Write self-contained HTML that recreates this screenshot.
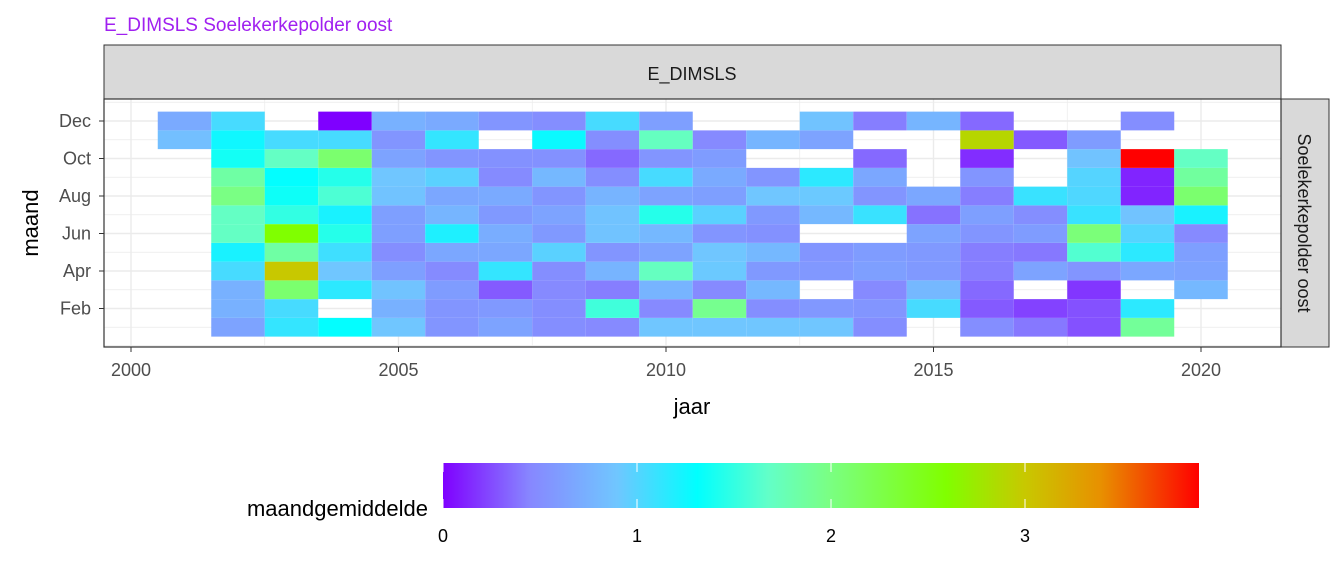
<!DOCTYPE html>
<html><head><meta charset="utf-8"><style>
body{margin:0;background:#fff;}
svg{display:block;font-family:"Liberation Sans",Arial,sans-serif;}
</style></head><body>
<svg id="chart" width="1344" height="576" viewBox="0 0 1344 576">
<defs>
<linearGradient id="cg" x1="0" x2="1" y1="0" y2="0">
<stop offset="0" stop-color="#7F00FF"/>
<stop offset="0.115" stop-color="#8787FF"/>
<stop offset="0.23" stop-color="#70C6FF"/>
<stop offset="0.336" stop-color="#00FFFF"/>
<stop offset="0.43" stop-color="#62FFC8"/>
<stop offset="0.51" stop-color="#7AFF84"/>
<stop offset="0.665" stop-color="#80FF00"/>
<stop offset="0.77" stop-color="#C8C800"/>
<stop offset="0.87" stop-color="#E89000"/>
<stop offset="1" stop-color="#FF0000"/>
</linearGradient>
</defs>
<text x="104" y="31" font-size="19" fill="#A020F0">E_DIMSLS Soelekerkepolder oost</text>
<rect x="104" y="45" width="1177" height="54" fill="#D9D9D9" stroke="#333" stroke-width="1"/>
<text x="692" y="80" font-size="18" text-anchor="middle" fill="#1A1A1A">E_DIMSLS</text>
<rect x="1281" y="99" width="48" height="248" fill="#D9D9D9" stroke="#333" stroke-width="1"/>
<text transform="translate(1298,223) rotate(90)" font-size="18" text-anchor="middle" fill="#1A1A1A">Soelekerkepolder oost</text>
<g id="grid"></g>
<g id="cells"></g>
<rect x="104" y="99" width="1177" height="248" fill="none" stroke="#333" stroke-width="1.2"/>
<g id="axes"></g>
<text transform="translate(38,223) rotate(-90)" font-size="22" text-anchor="middle" fill="#000">maand</text>
<text x="692" y="414" font-size="22" text-anchor="middle" fill="#000">jaar</text>
<text x="428" y="516" font-size="22" text-anchor="end" fill="#000">maandgemiddelde</text>
<rect x="443" y="463" width="756" height="45" fill="url(#cg)"/>
<g id="legend"></g>
</svg>
<script>
const years=[2001,2002,2003,2004,2005,2006,2007,2008,2009,2010,2011,2012,2013,2014,2015,2016,2017,2018,2019,2020];
const monthLabels=["Feb","Apr","Jun","Aug","Oct","Dec"];
const monthTicks=[2,4,6,8,10,12];
const yearTicks=[2000,2005,2010,2015,2020];
const legendTicks=[0,1,2,3];
const n=null;
const v2001=[n,n,n,n,n,n,n,n,n,n,0.85,0.7];
const v2002=[0.65,0.75,0.75,1.05,1.22,1.7,1.7,2.0,1.85,1.38,1.25,1.05];
const v2003=[1.12,1.05,2.1,3.0,1.85,2.6,1.5,1.36,1.3,1.7,1.05,n];
const v2004=[1.3,n,1.15,0.9,1.08,1.45,1.22,1.6,1.45,2.1,1.05,0.0];
const v2005=[0.9,0.75,0.88,0.62,0.5,0.62,0.62,0.88,0.9,0.65,0.55,0.75];
const v2006=[0.55,0.55,0.6,0.48,0.68,1.2,0.78,0.68,0.98,0.55,1.12,0.7];
const v2007=[0.65,0.58,0.3,1.12,0.68,0.72,0.58,0.7,0.48,0.52,n,0.55];
const v2008=[0.5,0.5,0.47,0.5,0.98,0.58,0.65,0.55,0.8,0.52,1.27,0.5];
const v2009=[0.47,1.55,0.42,0.77,0.55,0.88,0.88,0.77,0.5,0.35,0.5,1.05];
const v2010=[0.9,0.47,0.77,1.72,0.65,0.8,1.45,0.65,1.05,0.55,1.72,0.62];
const v2011=[0.9,1.95,0.47,0.92,0.9,0.55,0.98,0.62,0.7,0.6,0.47,n];
const v2012=[0.9,0.5,0.8,0.58,0.8,0.52,0.58,0.9,0.55,n,0.78,n];
const v2013=[0.9,0.57,n,0.57,0.55,n,0.8,0.92,1.15,n,0.65,0.88];
const v2014=[0.5,0.55,0.47,0.62,0.6,n,1.1,0.55,0.68,0.35,n,0.42];
const v2015=[n,1.05,0.8,0.58,0.58,0.65,0.38,0.68,n,n,n,0.78];
const v2016=[0.5,0.3,0.35,0.42,0.42,0.55,0.62,0.42,0.55,0.15,2.9,0.35];
const v2017=[0.4,0.22,n,0.65,0.4,0.6,0.5,1.1,n,n,0.3,n];
const v2018=[0.27,0.27,0.18,0.55,1.62,2.05,1.1,1.02,1.0,0.88,0.6,n];
const v2019=[1.9,1.15,n,0.68,1.15,1.0,0.88,0.12,0.12,3.9,n,0.5];
const v2020=[n,n,0.8,0.65,0.62,0.47,1.22,2.1,1.88,1.7,n,n];
const values=[v2001,v2002,v2003,v2004,v2005,v2006,v2007,v2008,v2009,v2010,v2011,v2012,v2013,v2014,v2015,v2016,v2017,v2018,v2019,v2020];

const NS="http://www.w3.org/2000/svg";
const xS=y=>131+53.5*(y-2000);
const yS=m=>121+(12-m)*18.75;
const lS=v=>443+194*v;
const stops=[[0,[127,0,255]],[0.45,[135,135,255]],[0.9,[112,198,255]],[1.31,[0,255,255]],[1.68,[98,255,200]],[2.0,[122,255,132]],[2.6,[128,255,0]],[3.0,[200,200,0]],[3.4,[232,144,0]],[3.9,[255,0,0]]];
function col(v){
  if(v<=stops[0][0])return'rgb('+stops[0][1]+')';
  for(let i=1;i<stops.length;i++){if(v<=stops[i][0]){const a=stops[i-1],b=stops[i],t=(v-a[0])/(b[0]-a[0]);return'rgb('+a[1].map((c,k)=>Math.round(c+(b[1][k]-c)*t)).join(',')+')';}}
  return'rgb(255,0,0)';
}
function mk(tag,attrs,parent){const e=document.createElementNS(NS,tag);for(const k in attrs)e.setAttribute(k,attrs[k]);parent.appendChild(e);return e;}
const grid=document.getElementById('grid'),cells=document.getElementById('cells'),axes=document.getElementById('axes'),leg=document.getElementById('legend');
// grid
for(let y=1997.5;y<=2022.5;y+=2.5){const x=xS(y);if(x<=104||x>=1281)continue;const major=(y%5===0);
  const l=mk('line',{x1:x,x2:x,y1:99,y2:347,stroke:'#EBEBEB','stroke-width':major?1.4:0.7},grid);
  
  }
for(let m=0;m<=13;m++){const y=yS(m);if(y<=99||y>=347)continue;const major=(m%2===0);
  const l=mk('line',{x1:104,x2:1281,y1:y,y2:y,stroke:'#EBEBEB','stroke-width':major?1.4:0.7},grid);
  
  }
// cells
years.forEach((yr,i)=>{values[i].forEach((v,j)=>{if(v===null)return;const m=j+1;
  const r=mk('rect',{x:xS(yr-0.5),y:yS(m+0.5),width:53.5,height:18.75,fill:col(v)},cells);
  
  });});
// axes
monthTicks.forEach((m,i)=>{const y=yS(m);
  mk('line',{x1:99,x2:104,y1:y,y2:y,stroke:'#333'},axes);
  const t=mk('text',{x:91,y:y+6,'font-size':18,'text-anchor':'end',fill:'#4D4D4D'},axes);t.textContent=monthLabels[i];
  
  });
yearTicks.forEach(yr=>{const x=xS(yr);
  mk('line',{x1:x,x2:x,y1:347,y2:352,stroke:'#333'},axes);
  const t=mk('text',{x:x,y:376,'font-size':18,'text-anchor':'middle',fill:'#4D4D4D'},axes);t.textContent=yr;
  
  });
legendTicks.forEach(v=>{const x=lS(v);
  mk('line',{x1:x,x2:x,y1:463,y2:472,stroke:'#fff','stroke-width':1},leg);
  mk('line',{x1:x,x2:x,y1:499,y2:508,stroke:'#fff','stroke-width':1},leg);
  const t=mk('text',{x:x,y:542,'font-size':18,'text-anchor':'middle',fill:'#000'},leg);t.textContent=v;
  
  });
</script>
</body></html>
